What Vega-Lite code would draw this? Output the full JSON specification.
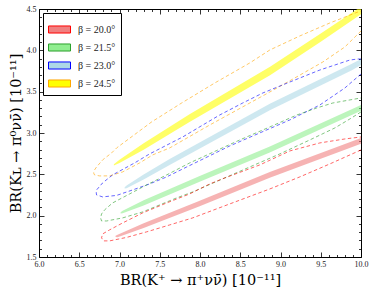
{
  "$schema": "https://vega.github.io/schema/vega-lite/v6.json",
  "width": 322,
  "height": 248,
  "autosize": {"type": "none"},
  "padding": {"left": 39, "top": 9, "right": 13, "bottom": 38},
  "background": "white",
  "config": {
    "view": {"stroke": null},
    "font": "Liberation Serif",
    "axis": {
      "domainColor": "black",
      "domainWidth": 1,
      "tickColor": "black",
      "tickWidth": 0.8,
      "grid": false,
      "labelFont": "Liberation Serif",
      "labelFontSize": 8,
      "labelColor": "#222",
      "titleFont": "DejaVu Serif",
      "titleFontWeight": "normal",
      "titleFontSize": 14.5,
      "titleColor": "black"
    },
    "legend": {
      "orient": "top-left",
      "offset": 4,
      "padding": 5,
      "strokeColor": "black",
      "fillColor": "white",
      "cornerRadius": 0,
      "symbolType": "M-1,-0.32H1V0.32H-1Z",
      "symbolSize": 484,
      "symbolStrokeWidth": 1,
      "symbolOpacity": 1,
      "labelFont": "Liberation Serif",
      "labelFontSize": 10,
      "labelColor": "#222",
      "labelOffset": 7,
      "rowPadding": -8
    }
  },
  "datasets": {
    "bands": [
      {"beta": "β = 24.5°", "x": 6.93, "lo": 2.606, "hi": 2.622},
      {"beta": "β = 24.5°", "x": 7.0, "lo": 2.636, "hi": 2.676},
      {"beta": "β = 24.5°", "x": 7.3, "lo": 2.797, "hi": 2.877},
      {"beta": "β = 24.5°", "x": 7.87, "lo": 3.133, "hi": 3.227},
      {"beta": "β = 24.5°", "x": 8.87, "lo": 3.700, "hi": 3.800},
      {"beta": "β = 24.5°", "x": 9.5, "lo": 4.105, "hi": 4.205},
      {"beta": "β = 24.5°", "x": 10.0, "lo": 4.438, "hi": 4.528},
      {"beta": "β = 23.0°", "x": 7.064, "lo": 2.328, "hi": 2.344},
      {"beta": "β = 23.0°", "x": 7.088, "lo": 2.332, "hi": 2.364},
      {"beta": "β = 23.0°", "x": 7.3, "lo": 2.437, "hi": 2.497},
      {"beta": "β = 23.0°", "x": 7.623, "lo": 2.613, "hi": 2.687},
      {"beta": "β = 23.0°", "x": 8.867, "lo": 3.275, "hi": 3.355},
      {"beta": "β = 23.0°", "x": 9.887, "lo": 3.759, "hi": 3.839},
      {"beta": "β = 23.0°", "x": 10.0, "lo": 3.822, "hi": 3.896},
      {"beta": "β = 21.5°", "x": 7.014, "lo": 2.025, "hi": 2.041},
      {"beta": "β = 21.5°", "x": 7.039, "lo": 2.030, "hi": 2.060},
      {"beta": "β = 21.5°", "x": 7.3, "lo": 2.123, "hi": 2.185},
      {"beta": "β = 21.5°", "x": 7.996, "lo": 2.409, "hi": 2.479},
      {"beta": "β = 21.5°", "x": 8.867, "lo": 2.764, "hi": 2.838},
      {"beta": "β = 21.5°", "x": 10.0, "lo": 3.268, "hi": 3.338},
      {"beta": "β = 20.0°", "x": 6.951, "lo": 1.741, "hi": 1.757},
      {"beta": "β = 20.0°", "x": 6.976, "lo": 1.740, "hi": 1.770},
      {"beta": "β = 20.0°", "x": 7.3, "lo": 1.851, "hi": 1.909},
      {"beta": "β = 20.0°", "x": 7.996, "lo": 2.115, "hi": 2.181},
      {"beta": "β = 20.0°", "x": 8.867, "lo": 2.458, "hi": 2.528},
      {"beta": "β = 20.0°", "x": 10.0, "lo": 2.869, "hi": 2.939}
    ],
    "contours": [
      {"beta": "β = 24.5°", "i": 0, "x": 10.0, "y": 4.234},
      {"beta": "β = 24.5°", "i": 1, "x": 9.800, "y": 4.041},
      {"beta": "β = 24.5°", "i": 2, "x": 9.526, "y": 3.859},
      {"beta": "β = 24.5°", "i": 3, "x": 9.178, "y": 3.666},
      {"beta": "β = 24.5°", "i": 4, "x": 8.867, "y": 3.496},
      {"beta": "β = 24.5°", "i": 5, "x": 8.121, "y": 3.097},
      {"beta": "β = 24.5°", "i": 6, "x": 7.623, "y": 2.819},
      {"beta": "β = 24.5°", "i": 7, "x": 7.412, "y": 2.735},
      {"beta": "β = 24.5°", "i": 8, "x": 7.250, "y": 2.638},
      {"beta": "β = 24.5°", "i": 9, "x": 7.039, "y": 2.529},
      {"beta": "β = 24.5°", "i": 10, "x": 6.877, "y": 2.481},
      {"beta": "β = 24.5°", "i": 11, "x": 6.752, "y": 2.481},
      {"beta": "β = 24.5°", "i": 12, "x": 6.690, "y": 2.493},
      {"beta": "β = 24.5°", "i": 13, "x": 6.678, "y": 2.517},
      {"beta": "β = 24.5°", "i": 14, "x": 6.690, "y": 2.553},
      {"beta": "β = 24.5°", "i": 15, "x": 6.715, "y": 2.589},
      {"beta": "β = 24.5°", "i": 16, "x": 6.790, "y": 2.674},
      {"beta": "β = 24.5°", "i": 17, "x": 6.902, "y": 2.759},
      {"beta": "β = 24.5°", "i": 18, "x": 6.964, "y": 2.819},
      {"beta": "β = 24.5°", "i": 19, "x": 7.399, "y": 3.134},
      {"beta": "β = 24.5°", "i": 20, "x": 7.772, "y": 3.363},
      {"beta": "β = 24.5°", "i": 21, "x": 8.183, "y": 3.605},
      {"beta": "β = 24.5°", "i": 22, "x": 8.618, "y": 3.847},
      {"beta": "β = 24.5°", "i": 23, "x": 8.867, "y": 4.004},
      {"beta": "β = 24.5°", "i": 24, "x": 9.240, "y": 4.174},
      {"beta": "β = 24.5°", "i": 25, "x": 9.613, "y": 4.331},
      {"beta": "β = 24.5°", "i": 26, "x": 9.962, "y": 4.464},
      {"beta": "β = 24.5°", "i": 27, "x": 10.0, "y": 4.476},

      {"beta": "β = 23.0°", "i": 0, "x": 10.0, "y": 3.714},
      {"beta": "β = 23.0°", "i": 1, "x": 9.800, "y": 3.545},
      {"beta": "β = 23.0°", "i": 2, "x": 9.489, "y": 3.339},
      {"beta": "β = 23.0°", "i": 3, "x": 9.116, "y": 3.158},
      {"beta": "β = 23.0°", "i": 4, "x": 8.743, "y": 3.001},
      {"beta": "β = 23.0°", "i": 5, "x": 8.369, "y": 2.843},
      {"beta": "β = 23.0°", "i": 6, "x": 7.835, "y": 2.589},
      {"beta": "β = 23.0°", "i": 7, "x": 7.586, "y": 2.469},
      {"beta": "β = 23.0°", "i": 8, "x": 7.374, "y": 2.384},
      {"beta": "β = 23.0°", "i": 9, "x": 7.163, "y": 2.311},
      {"beta": "β = 23.0°", "i": 10, "x": 6.964, "y": 2.245},
      {"beta": "β = 23.0°", "i": 11, "x": 6.790, "y": 2.227},
      {"beta": "β = 23.0°", "i": 12, "x": 6.715, "y": 2.251},
      {"beta": "β = 23.0°", "i": 13, "x": 6.711, "y": 2.275},
      {"beta": "β = 23.0°", "i": 14, "x": 6.715, "y": 2.311},
      {"beta": "β = 23.0°", "i": 15, "x": 6.790, "y": 2.396},
      {"beta": "β = 23.0°", "i": 16, "x": 6.914, "y": 2.493},
      {"beta": "β = 23.0°", "i": 17, "x": 7.188, "y": 2.638},
      {"beta": "β = 23.0°", "i": 18, "x": 7.374, "y": 2.747},
      {"beta": "β = 23.0°", "i": 19, "x": 7.785, "y": 2.952},
      {"beta": "β = 23.0°", "i": 20, "x": 8.245, "y": 3.218},
      {"beta": "β = 23.0°", "i": 21, "x": 8.531, "y": 3.363},
      {"beta": "β = 23.0°", "i": 22, "x": 8.780, "y": 3.484},
      {"beta": "β = 23.0°", "i": 23, "x": 9.116, "y": 3.617},
      {"beta": "β = 23.0°", "i": 24, "x": 9.489, "y": 3.762},
      {"beta": "β = 23.0°", "i": 25, "x": 9.862, "y": 3.883},
      {"beta": "β = 23.0°", "i": 26, "x": 9.962, "y": 3.895},
      {"beta": "β = 23.0°", "i": 27, "x": 10.0, "y": 3.895},

      {"beta": "β = 21.5°", "i": 0, "x": 10.0, "y": 3.255},
      {"beta": "β = 21.5°", "i": 1, "x": 9.862, "y": 3.170},
      {"beta": "β = 21.5°", "i": 2, "x": 9.675, "y": 3.061},
      {"beta": "β = 21.5°", "i": 3, "x": 9.364, "y": 2.916},
      {"beta": "β = 21.5°", "i": 4, "x": 8.991, "y": 2.747},
      {"beta": "β = 21.5°", "i": 5, "x": 8.618, "y": 2.589},
      {"beta": "β = 21.5°", "i": 6, "x": 7.909, "y": 2.287},
      {"beta": "β = 21.5°", "i": 7, "x": 7.710, "y": 2.215},
      {"beta": "β = 21.5°", "i": 8, "x": 7.499, "y": 2.130},
      {"beta": "β = 21.5°", "i": 9, "x": 7.287, "y": 2.045},
      {"beta": "β = 21.5°", "i": 10, "x": 7.039, "y": 1.973},
      {"beta": "β = 21.5°", "i": 11, "x": 6.840, "y": 1.936},
      {"beta": "β = 21.5°", "i": 12, "x": 6.777, "y": 1.936},
      {"beta": "β = 21.5°", "i": 13, "x": 6.765, "y": 1.973},
      {"beta": "β = 21.5°", "i": 14, "x": 6.777, "y": 2.021},
      {"beta": "β = 21.5°", "i": 15, "x": 6.815, "y": 2.070},
      {"beta": "β = 21.5°", "i": 16, "x": 6.914, "y": 2.154},
      {"beta": "β = 21.5°", "i": 17, "x": 7.126, "y": 2.263},
      {"beta": "β = 21.5°", "i": 18, "x": 7.337, "y": 2.372},
      {"beta": "β = 21.5°", "i": 19, "x": 7.586, "y": 2.493},
      {"beta": "β = 21.5°", "i": 20, "x": 7.872, "y": 2.638},
      {"beta": "β = 21.5°", "i": 21, "x": 8.494, "y": 2.916},
      {"beta": "β = 21.5°", "i": 22, "x": 8.867, "y": 3.073},
      {"beta": "β = 21.5°", "i": 23, "x": 9.203, "y": 3.218},
      {"beta": "β = 21.5°", "i": 24, "x": 9.451, "y": 3.303},
      {"beta": "β = 21.5°", "i": 25, "x": 9.650, "y": 3.363},
      {"beta": "β = 21.5°", "i": 26, "x": 9.862, "y": 3.400},
      {"beta": "β = 21.5°", "i": 27, "x": 10.0, "y": 3.424},

      {"beta": "β = 20.0°", "i": 0, "x": 10.0, "y": 2.795},
      {"beta": "β = 20.0°", "i": 1, "x": 9.613, "y": 2.626},
      {"beta": "β = 20.0°", "i": 2, "x": 9.240, "y": 2.469},
      {"beta": "β = 20.0°", "i": 3, "x": 8.867, "y": 2.323},
      {"beta": "β = 20.0°", "i": 4, "x": 8.369, "y": 2.142},
      {"beta": "β = 20.0°", "i": 5, "x": 7.909, "y": 1.973},
      {"beta": "β = 20.0°", "i": 6, "x": 7.623, "y": 1.888},
      {"beta": "β = 20.0°", "i": 7, "x": 7.337, "y": 1.804},
      {"beta": "β = 20.0°", "i": 8, "x": 7.088, "y": 1.737},
      {"beta": "β = 20.0°", "i": 9, "x": 6.877, "y": 1.695},
      {"beta": "β = 20.0°", "i": 10, "x": 6.802, "y": 1.695},
      {"beta": "β = 20.0°", "i": 11, "x": 6.777, "y": 1.731},
      {"beta": "β = 20.0°", "i": 12, "x": 6.790, "y": 1.779},
      {"beta": "β = 20.0°", "i": 13, "x": 6.877, "y": 1.828},
      {"beta": "β = 20.0°", "i": 14, "x": 7.039, "y": 1.912},
      {"beta": "β = 20.0°", "i": 15, "x": 7.287, "y": 2.033},
      {"beta": "β = 20.0°", "i": 16, "x": 7.586, "y": 2.154},
      {"beta": "β = 20.0°", "i": 17, "x": 7.872, "y": 2.263},
      {"beta": "β = 20.0°", "i": 18, "x": 8.121, "y": 2.384},
      {"beta": "β = 20.0°", "i": 19, "x": 8.307, "y": 2.456},
      {"beta": "β = 20.0°", "i": 20, "x": 8.743, "y": 2.614},
      {"beta": "β = 20.0°", "i": 21, "x": 9.116, "y": 2.783},
      {"beta": "β = 20.0°", "i": 22, "x": 9.489, "y": 2.880},
      {"beta": "β = 20.0°", "i": 23, "x": 9.800, "y": 2.928},
      {"beta": "β = 20.0°", "i": 24, "x": 10.0, "y": 2.952}
    ]
  },
  "resolve": {"axis": {"x": "independent", "y": "independent"}},
  "layer": [
    {
      "data": {"name": "bands"},
      "mark": {"type": "area", "clip": true, "fillOpacity": 0.6},
      "encoding": {
        "x": {
          "field": "x", "type": "quantitative",
          "scale": {"domain": [6, 10], "nice": false, "zero": false},
          "axis": {
            "orient": "bottom",
            "title": "BR(K⁺ → π⁺νν̄) [10⁻¹¹]",
            "titlePadding": 3,
            "values": [6.0,6.1,6.2,6.3,6.4,6.5,6.6,6.7,6.8,6.9,7.0,7.1,7.2,7.3,7.4,7.5,7.6,7.7,7.8,7.9,8.0,8.1,8.2,8.3,8.4,8.5,8.6,8.7,8.8,8.9,9.0,9.1,9.2,9.3,9.4,9.5,9.6,9.7,9.8,9.9,10.0],
            "labelExpr": "abs(datum.value*2 - round(datum.value*2)) < 0.001 ? format(datum.value, '.1f') : ''",
            "labelFlush": false,
            "labelOverlap": false,
            "tickSize": {"condition": {"test": "abs(datum.value*2 - round(datum.value*2)) < 0.001", "value": -5}, "value": -2.5},
            "labelPadding": 8
          }
        },
        "y": {
          "field": "lo", "type": "quantitative", "stack": null,
          "scale": {"domain": [1.5, 4.5], "nice": false, "zero": false},
          "axis": {
            "orient": "left",
            "title": "BR(Kʟ → π⁰νν̄) [10⁻¹¹]",
            "titlePadding": 3,
            "values": [1.5,1.6,1.7,1.8,1.9,2.0,2.1,2.2,2.3,2.4,2.5,2.6,2.7,2.8,2.9,3.0,3.1,3.2,3.3,3.4,3.5,3.6,3.7,3.8,3.9,4.0,4.1,4.2,4.3,4.4,4.5],
            "labelExpr": "abs(datum.value*2 - round(datum.value*2)) < 0.001 ? format(datum.value, '.1f') : ''",
            "labelFlush": false,
            "labelOverlap": false,
            "tickSize": {"condition": {"test": "abs(datum.value*2 - round(datum.value*2)) < 0.001", "value": -5}, "value": -2.5},
            "labelPadding": 8
          }
        },
        "y2": {"field": "hi"},
        "fill": {
          "field": "beta", "type": "nominal",
          "scale": {"range": ["#f08080", "#90ee90", "#add8e6", "#ffff00"]},
          "legend": {
            "title": null,
            "encode": {"symbols": {"update": {"stroke": {"scale": "stroke", "field": "value"}, "strokeWidth": {"value": 1}, "opacity": {"value": 1}}}}
          }
        }
      }
    },
    {
      "data": {"name": "contours"},
      "mark": {"type": "line", "clip": true, "strokeDash": [3.5, 2.5], "strokeWidth": 0.8, "opacity": 0.75},
      "encoding": {
        "x": {
          "field": "x", "type": "quantitative",
          "axis": {
            "orient": "top",
            "title": null,
            "labels": false,
            "values": [6.0,6.1,6.2,6.3,6.4,6.5,6.6,6.7,6.8,6.9,7.0,7.1,7.2,7.3,7.4,7.5,7.6,7.7,7.8,7.9,8.0,8.1,8.2,8.3,8.4,8.5,8.6,8.7,8.8,8.9,9.0,9.1,9.2,9.3,9.4,9.5,9.6,9.7,9.8,9.9,10.0],
            "tickSize": {"condition": {"test": "abs(datum.value*2 - round(datum.value*2)) < 0.001", "value": -5}, "value": -2.5}
          }
        },
        "y": {
          "field": "y", "type": "quantitative",
          "axis": {
            "orient": "right",
            "title": null,
            "labels": false,
            "values": [1.5,1.6,1.7,1.8,1.9,2.0,2.1,2.2,2.3,2.4,2.5,2.6,2.7,2.8,2.9,3.0,3.1,3.2,3.3,3.4,3.5,3.6,3.7,3.8,3.9,4.0,4.1,4.2,4.3,4.4,4.5],
            "tickSize": {"condition": {"test": "abs(datum.value*2 - round(datum.value*2)) < 0.001", "value": -5}, "value": -2.5}
          }
        },
        "stroke": {
          "field": "beta", "type": "nominal",
          "scale": {"range": ["#ff0000", "#2ca02c", "#0000ff", "#ffa500"]},
          "legend": null
        },
        "order": {"field": "i", "type": "quantitative"}
      }
    }
  ]
}
